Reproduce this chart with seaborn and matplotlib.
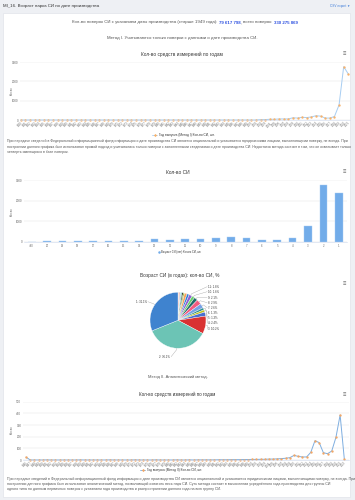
import matplotlib
matplotlib.use("Agg")
import matplotlib.pyplot as plt
import seaborn as sns
import numpy as np
import pandas as pd
from matplotlib.lines import Line2D
from matplotlib.patches import Rectangle

# ---------------- data ----------------
years_m1 = list(range(1950, 2022))
counts_m1 = [0, 0, 1, 0, 0, 0, 1, 0, 0, 0,
             0, 1, 0, 0, 0, 0, 1, 0, 0, 0,
             0, 0, 1, 0, 0, 0, 0, 1, 0, 0,
             0, 0, 0, 1, 0, 0, 0, 0, 0, 0,
             1, 0, 0, 0, 0, 0, 0, 0, 0, 0,
             0, 0,
             20, 20, 38, 38, 55, 55, 55, 115, 100, 140,
             125, 160, 220, 200, 100, 100, 180, 780, 2760, 2380]

age_labels = ['>20', '20', '19', '18', '17', '16', '15', '14', '13', '12', '11',
              '10', '9', '8', '7', '6', '5', '4', '3', '2', '1']
age_counts = [8, 20, 20, 38, 38, 55, 55, 55, 115, 100, 140,
              125, 160, 220, 200, 100, 100, 180, 780, 2760, 2380]

years_m2 = list(range(1946, 2023))
counts_m2 = [25,
             0, 0, 0, 0, 1, 0, 0, 0, 0, 0,
             0, 0, 1, 0, 0, 0, 0, 0, 0, 1,
             0, 0, 0, 0, 0, 1, 0, 0, 0, 0,
             1, 0, 0, 0, 0, 1, 0, 0, 1, 0,
             1, 1, 1,
             1, 1, 2, 2, 2, 3, 3, 3, 4, 4,
             5, 5, 6, 6, 8, 8, 10, 12,
             15, 20, 40, 31, 26, 26, 66, 166, 149, 63, 54, 77, 194, 386, 9]

pie_labeled = ['11', '10', '9', '8', '7', '6', '5', '4', '3']

title_main = "МI_16. Возраст парка СИ по дате производства"
chart_title = "Кол-во средств измерений по годам"
bar_title = "Кол-во СИ"
pie_title = "Возраст СИ (в годах): кол-во СИ, %"
legend1 = "Год выпуска (Метод I) Кол-во СИ, шт."
legend2 = "Возраст СИ (лет) Кол-во СИ, шт."
legend3 = "Год выпуска (Метод II) Кол-во СИ, шт."
method1 = "Метод I. Учитываются только поверки с данными о дате производства СИ."
method2 = "Метод II. Аналитический метод."
para1 = ["При передаче сведений в Федеральный информационный фонд информация о дате производства СИ является опциональной и указывается юридическими лицами, выполняющими поверку, не всегда. При",
         "построении данного графика был использован прямой подход и учитывались только поверки с заполненными сведениями о дате производства СИ. Недостаток метода состоит в том, что он охватывает только",
         "четверть имеющихся в базе поверок."]
para2 = ["При передаче сведений в Федеральный информационный фонд информация о дате производства СИ является опциональной и указывается юридическими лицами, выполняющими поверку, не всегда. При",
         "построении данного графика был использован аналитический метод, позволяющий охватить весь парк СИ. Суть метода состоит в вычислении усреднённого года производства для группы СИ",
         "одного типа по данным первичных поверок с указанием года производства и распространении данного года на всю группу СИ."]

# ---------------- style ----------------
sns.set_theme(style="white")
plt.rcParams['font.family'] = ['Liberation Sans', 'DejaVu Sans']
plt.rcParams['axes.unicode_minus'] = False

W, H = 355, 500
fig = plt.figure(figsize=(W / 100, H / 100), dpi=100)
fig.patch.set_facecolor('#eef0f4')
R = fig.canvas.get_renderer()

TXT = '#333333'
GRAY = '#555555'
TICK = '#666666'


def fx(x):
    return x / W


def fy(y):
    return 1 - y / H


def add_ax(l, t, r, b):
    return fig.add_axes([fx(l), fy(b), (r - l) / W, (b - t) / H])


def fit_text(x, y, s, width, ha='left', base=3.0, **kw):
    t = fig.text(fx(x), fy(y), s, fontsize=base, ha=ha, va='center', **kw)
    w = t.get_window_extent(renderer=R).width
    t.set_fontsize(base * width / w)
    return t


def paragraph(x, ys, lines, width, color=GRAY, base=3.0):
    texts = [fig.text(fx(x), fy(y), s, fontsize=base, ha='left', va='center', color=color)
             for y, s in zip(ys, lines)]
    fs = min(base * width / t.get_window_extent(renderer=R).width for t in texts)
    for t in texts:
        t.set_fontsize(fs)


def seg_line(cx, y, segs, width, base=3.0):
    texts = []
    for s, color, weight, _ in segs:
        texts.append(fig.text(0, fy(y), s, fontsize=base, color=color,
                              fontweight=weight, ha='left', va='center'))
    ws = [t.get_window_extent(renderer=R).width for t in texts]
    ngap = sum(1 for sg in segs if sg[3])
    sp = 0.278 * 100 / 72
    f = width / (sum(ws) / base + ngap * sp)
    for t in texts:
        t.set_fontsize(f)
    ws = [t.get_window_extent(renderer=R).width for t in texts]
    gap = sp * f
    x = cx - width / 2
    for t, w, sg in zip(texts, ws, segs):
        t.set_x(fx(x))
        x += w + (gap if sg[3] else 0)


def menu(y):
    fig.text(fx(344), fy(y), '≡', fontsize=4.2, color='#666666', ha='center', va='center')


def legend_item(x0, y, text, width, kind='line', lcol='#a7cdf2', mcol='#f7b26b'):
    if kind == 'line':
        fig.add_artist(Line2D([fx(x0), fx(x0 + 5)], [fy(y), fy(y)], transform=fig.transFigure,
                              color=lcol, lw=0.6))
        fig.add_artist(Line2D([fx(x0 + 2.5)], [fy(y)], transform=fig.transFigure, marker='D',
                              markersize=1.6, markerfacecolor=mcol, markeredgewidth=0, ls=''))
        tx = x0 + 7
    else:
        fig.add_artist(Line2D([fx(x0 + 1.5)], [fy(y)], transform=fig.transFigure, marker='o',
                              markersize=1.8, markerfacecolor=mcol, markeredgewidth=0, ls=''))
        tx = x0 + 4
    fit_text(tx, y, text, width - (tx - x0), color=TXT)


def style_axes(ax, ylim, yticks, ylabels):
    ax.set_facecolor('none')
    for s in ['top', 'right', 'left']:
        ax.spines[s].set_visible(False)
    ax.spines['bottom'].set_color('#ccd6eb')
    ax.spines['bottom'].set_linewidth(0.4)
    ax.set_ylim(*ylim)
    ax.set_yticks(yticks)
    ax.set_yticklabels(ylabels)
    ax.yaxis.grid(True, color='#e6e6e6', lw=0.35)
    ax.set_axisbelow(True)
    ax.tick_params(axis='y', length=0, labelsize=2.2, colors=TICK, pad=1.2)
    ax.set_xlabel('')
    ax.set_ylabel('')


# ---------------- page / card ----------------
fig.add_artist(Rectangle((fx(3), fy(497)), 347 / W, 484 / H, transform=fig.transFigure,
                         facecolor='white', edgecolor='#e1e4ea', lw=0.5, zorder=-5))
fit_text(2.7, 6, title_main, 95.6, color=TXT)
fit_text(350, 5.7, "CSV export ▼", 20, ha='right', color='#3d7bd9')

seg_line(182, 22.5, [
    ("Кол-во поверок СИ с указанием даты производства (старше 1949 года):", GRAY, 'normal', True),
    ("79 617 798", '#2b4fe0', 'bold', False),
    (",", GRAY, 'normal', True),
    ("всего поверок:", GRAY, 'normal', True),
    ("330 275 869", '#2b4fe0', 'bold', False),
], 219)
fit_text(182, 38.5, method1, 149, ha='center', color=GRAY)

# ---------------- chart 1: line, method I ----------------
fit_text(181.7, 54, chart_title, 78, ha='center', color=TXT)
menu(54)
ax1 = add_ax(20, 62, 350, 120)
sns.lineplot(x=years_m1, y=counts_m1, ax=ax1, color='#a7cdf2', lw=0.7, marker='o',
             markersize=1.7, markerfacecolor='#f7b26b', markeredgewidth=0, clip_on=False)
style_axes(ax1, (0, 3000), [0, 1000, 2000, 3000], ['0', '1000', '2000', '3000'])
ax1.set_xlim(1949.85, 2021.37)
ax1.set_xticks(years_m1)
ax1.set_xticklabels([str(y) for y in years_m1], rotation=45, ha='right', rotation_mode='anchor')
ax1.tick_params(axis='x', length=0, labelsize=1.9, colors=TICK, pad=0.8)
fig.text(fx(11.7), fy(91), 'Кол-во', rotation=90, fontsize=2.0, color=TICK, ha='center', va='center')
legend_item(152, 135, legend1, 61)
paragraph(7, [141.5, 147, 152.5], para1, 338)

# ---------------- chart 2: bars ----------------
fit_text(178, 172.3, bar_title, 23, ha='center', color=TXT)
menu(172.3)
ax2 = add_ax(24, 180, 347, 241.7)
sns.barplot(x=age_labels, y=age_counts, order=age_labels, ax=ax2, color='#72ace9', width=0.5,
            saturation=1, edgecolor='#a8cdf3', linewidth=0.3)
style_axes(ax2, (0, 3000), [0, 1000, 2000, 3000], ['0', '1000', '2000', '3000'])
ax2.set_xlim(-0.5, 20.54)
ax2.tick_params(axis='x', length=0, labelsize=2.0, colors=TICK, pad=2.0)
fig.text(fx(11.7), fy(211.7), 'Кол-во', rotation=90, fontsize=2.0, color=TICK, ha='center', va='center')
legend_item(157, 252.3, legend2, 43, kind='dot', mcol='#72ace9')

# ---------------- chart 3: pie ----------------
fit_text(180, 276, pie_title, 76.6, ha='center', color=TXT)
menu(284)
pie_colors = ['#f6c8a0', '#f4a3a8', '#f28f43', '#e03b3b', '#9bd3f0', '#5fc9c9', '#1a1a1a',
              '#8bbc21', '#f7a35c', '#2f7ed8', '#8e5fd4', '#6ad06a', '#1f6b6b', '#f15c80',
              '#77a1e5', '#2b908f', '#c0c020', '#4a6fd0', '#d93232', '#6cc4b5', '#3f83cf']
ax3 = add_ax(150, 292.3, 206, 348.3)
ax3.pie(age_counts, colors=pie_colors, startangle=90, counterclock=False, radius=1,
        wedgeprops=dict(edgecolor='white', linewidth=0.25))
ax3.set_xlim(-1, 1)
ax3.set_ylim(-1, 1)
ax3.axis('off')

total = float(sum(age_counts))
cum = np.cumsum([0] + age_counts)
mid_deg = {}
pct = {}
for i, lab in enumerate(age_labels):
    m = (cum[i] + cum[i + 1]) / 2 / total * 360.0
    mid_deg[lab] = np.deg2rad(90 - m)
    pct[lab] = age_counts[i] / total * 100


def px2pie(xp, yp):
    return (xp - 178) / 28.0, (320.3 - yp) / 28.0


right_y = [286.7, 291.7, 297.7, 302.7, 307.7, 312.7, 317.7, 323.3, 329.3]
for lab, yp in zip(pie_labeled, right_y):
    a = mid_deg[lab]
    lx, ly = px2pie(208.3, yp)
    p0 = (np.cos(a), np.sin(a))
    p1 = (np.cos(a) * 1.06, np.sin(a) * 1.06)
    ax3.plot([p0[0], p1[0], lx - 0.04], [p0[1], p1[1], ly], color='#999999', lw=0.25, clip_on=False)
    ax3.text(lx, ly, f"{lab}: {pct[lab]:.1f}%", fontsize=2.0, color=TXT, ha='left', va='center',
             clip_on=False)

for lab, (xp, yp) in [('1', (146.7, 301.7)), ('2', (170, 356.7))]:
    a = mid_deg[lab]
    lx, ly = px2pie(xp, yp)
    p0 = (np.cos(a), np.sin(a))
    p1 = (np.cos(a) * 1.06, np.sin(a) * 1.06)
    ax3.plot([p0[0], p1[0], lx + 0.04], [p0[1], p1[1], ly], color='#999999', lw=0.25, clip_on=False)
    ax3.text(lx, ly, f"{lab}: {pct[lab]:.1f}%", fontsize=2.0, color=TXT, ha='right', va='center',
             clip_on=False)

# ---------------- chart 4: line, method II ----------------
fit_text(178, 376.7, method2, 60, ha='center', color=GRAY)
fit_text(177.5, 394, chart_title, 74, ha='center', color=TXT)
menu(395)
ax4 = add_ax(23, 401.7, 349, 460)
sns.lineplot(x=years_m2, y=counts_m2, ax=ax4, color='#7eaee0', lw=0.7, marker='o',
             markersize=1.7, markerfacecolor='#f2a766', markeredgewidth=0, clip_on=False)
style_axes(ax4, (0, 500), [0, 100, 200, 300, 400, 500], ['0', '100', '200', '300', '400', '500'])
ax4.set_xlim(1945.28, 2023.12)
ax4.set_xticks(years_m2)
ax4.set_xticklabels([str(y) for y in years_m2], rotation=45, ha='right', rotation_mode='anchor')
ax4.tick_params(axis='x', length=0, labelsize=1.9, colors=TICK, pad=0.8)
fig.text(fx(11.7), fy(430), 'Кол-во', rotation=90, fontsize=2.0, color=TICK, ha='center', va='center')
legend_item(140, 470, legend3, 60, lcol='#7eaee0', mcol='#f2a766')
paragraph(7, [479.3, 484, 488.7], para2, 338)

fig.savefig('out.png', dpi=100, facecolor=fig.get_facecolor())
